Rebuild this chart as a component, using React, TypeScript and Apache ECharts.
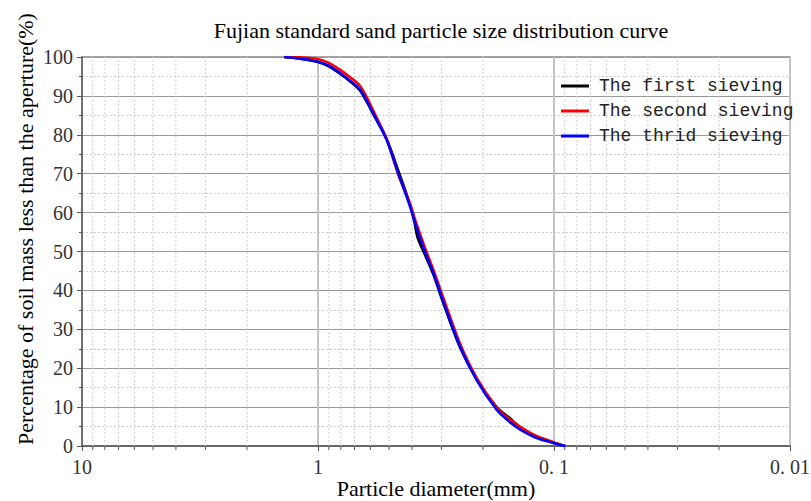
import React, { useEffect, useRef } from "react";
import * as echarts from "echarts";

// ---- data ----
const titleText = "Fujian standard sand particle size distribution curve";
const xName = "Particle diameter(mm)";
const yName = "Percentage of soil mass less than the aperture(%)";
const seriesNames = ["The first sieving", "The second sieving", "The thrid sieving"];
const seriesColors = ["#000000", "#ff0000", "#0000ff"];

const xTickValues = [10, 1, 0.1, 0.01];
const xTickLabels = ["10", "1", "0. 1", "0. 01"];
const minorDiameters = [
  9, 8, 7, 6, 5, 4, 3, 2,
  0.9, 0.8, 0.7, 0.6, 0.5, 0.4, 0.3, 0.2,
  0.09, 0.08, 0.07, 0.06, 0.05, 0.04, 0.03, 0.02,
];

const firstD = [1.39, 1.2, 1.0, 0.9, 0.82, 0.72, 0.664, 0.62, 0.583, 0.512, 0.457, 0.407, 0.39, 0.378, 0.35, 0.324, 0.294, 0.25, 0.213, 0.175, 0.155, 0.139, 0.12, 0.1007, 0.0897];
const firstP = [100, 99.6, 98.7, 97.6, 96.0, 93.4, 91.4, 88.4, 85.3, 78.9, 70.8, 62.0, 57.5, 53.5, 48.8, 44.0, 36.6, 25.3, 17.3, 10.0, 7.3, 4.8, 2.6, 0.9, 0];

const secondD = [1.39, 1.2, 1.0, 0.9, 0.82, 0.72, 0.664, 0.62, 0.583, 0.512, 0.457, 0.407, 0.382, 0.35, 0.324, 0.294, 0.25, 0.213, 0.175, 0.155, 0.139, 0.12, 0.1007, 0.0897];
const secondP = [100, 99.9, 99.5, 98.5, 97.0, 94.5, 92.6, 89.5, 86.2, 79.0, 69.8, 62.2, 57.0, 50.5, 45.2, 38.0, 26.3, 17.6, 9.9, 7.0, 4.9, 2.7, 1.0, 0];

const thirdD = [1.39, 1.2, 1.0, 0.9, 0.82, 0.72, 0.664, 0.62, 0.583, 0.512, 0.457, 0.407, 0.382, 0.35, 0.324, 0.294, 0.25, 0.213, 0.175, 0.155, 0.139, 0.12, 0.1007, 0.0897];
const thirdP = [100, 99.6, 98.8, 97.8, 96.2, 93.6, 91.6, 88.6, 85.5, 78.7, 70.1, 61.5, 56.0, 49.5, 44.4, 37.0, 25.5, 17.0, 9.3, 6.3, 4.2, 2.2, 0.8, 0];

const serif = "'Liberation Serif', 'Times New Roman', serif";
const mono = "'Liberation Mono', 'DejaVu Sans Mono', monospace";

function pairs(d: number[], p: number[]) {
  return d.map((v, i) => [v, p[i]]);
}

export default function App() {
  const ref = useRef<HTMLDivElement | null>(null);

  useEffect(() => {
    if (!ref.current) return;
    const chart = echarts.init(ref.current, null, { renderer: "svg" });
    const lineData = [pairs(firstD, firstP), pairs(secondD, secondP), pairs(thirdD, thirdP)];

    const option: any = {
      animation: false,
      backgroundColor: "#ffffff",
      title: {
        text: titleText,
        left: 436,
        textAlign: "center",
        top: 14,
        textStyle: { fontFamily: serif, fontSize: 22, fontWeight: "normal", color: "#000" },
      },
      legend: {
        orient: "vertical",
        left: 561,
        top: 76,
        padding: 0,
        icon: "rect",
        itemWidth: 28,
        itemHeight: 3,
        itemGap: 5,
        data: seriesNames,
        textStyle: { fontFamily: mono, fontSize: 18, lineHeight: 20, color: "#222", padding: [0, 0, 0, 5] },
      },
      grid: {
        left: 82,
        right: 21,
        top: 57,
        bottom: 55,
        show: true,
        borderColor: "#888",
        borderWidth: 1.5,
        containLabel: false,
        outerBoundsMode: "none",
      },
      graphic: [
        {
          type: "text",
          x: 25,
          y: 229,
          rotation: Math.PI / 2,
          style: {
            text: yName,
            fontFamily: serif,
            fontSize: 22,
            fill: "#000",
            align: "center",
            verticalAlign: "middle",
          },
        },
      ],
      xAxis: {
        type: "log",
        logBase: 10,
        min: 0.01,
        max: 10,
        inverse: true,
        name: xName,
        nameLocation: "middle",
        nameGap: 31,
        nameMoveOverlap: false,
        nameTextStyle: { fontFamily: serif, fontSize: 22, color: "#000" },
        axisLine: { show: true, lineStyle: { color: "#555", width: 1.5 } },
        axisTick: { show: true, length: 5, inside: false, lineStyle: { color: "#555" } },
        axisLabel: {
          fontFamily: serif,
          fontSize: 20,
          color: "#333",
          margin: 11,
          formatter: (v: number) => {
            for (let i = 0; i < xTickValues.length; i++) {
              if (Math.abs(Math.log10(v) - Math.log10(xTickValues[i])) < 1e-6) return xTickLabels[i];
            }
            return "";
          },
        },
        splitLine: { show: true, lineStyle: { color: "#c4c4c4", width: 2 } },
      },
      yAxis: {
        type: "value",
        min: 0,
        max: 100,
        interval: 10,
        axisLine: { show: true, lineStyle: { color: "#555", width: 1.5 } },
        axisTick: { show: true, length: 5, lineStyle: { color: "#555" } },
        minorTick: { show: true, splitNumber: 2, length: 3, lineStyle: { color: "#555" } },
        axisLabel: { fontFamily: serif, fontSize: 20, color: "#333", margin: 9 },
        splitLine: { show: true, lineStyle: { color: "#999", width: 1.2 } },
        minorSplitLine: { show: true, lineStyle: { color: "#cfcfcf", width: 1, type: [2, 2] } },
      },
      series: [
        {
          type: "custom",
          name: "minorGrid",
          coordinateSystem: "cartesian2d",
          silent: true,
          clip: false,
          z: 1,
          data: minorDiameters.map((d) => [d, 0]),
          encode: { x: 0, y: 1 },
          renderItem: (params: any, api: any) => {
            const v = api.value(0);
            const b = api.coord([v, 0]);
            const t = api.coord([v, 100]);
            return {
              type: "group",
              children: [
                {
                  type: "line",
                  shape: { x1: b[0], y1: b[1], x2: t[0], y2: t[1] },
                  style: { stroke: "#cfcfcf", lineWidth: 1, lineDash: [2, 2] },
                },
                {
                  type: "line",
                  shape: { x1: b[0], y1: b[1], x2: b[0], y2: b[1] + 4 },
                  style: { stroke: "#555", lineWidth: 1 },
                },
              ],
            };
          },
        },
        ...seriesNames.map((name, i) => ({
          type: "line",
          name,
          data: lineData[i],
          smooth: 0.3,
          symbol: "none",
          z: 3 + i,
          lineStyle: { color: seriesColors[i], width: 2.6 },
          itemStyle: { color: seriesColors[i] },
        })),
      ],
    };

    chart.setOption(option);
    return () => chart.dispose();
  }, []);

  return <div ref={ref} style={{ width: 811, height: 501, position: "absolute", left: 0, top: 0 }} />;
}
